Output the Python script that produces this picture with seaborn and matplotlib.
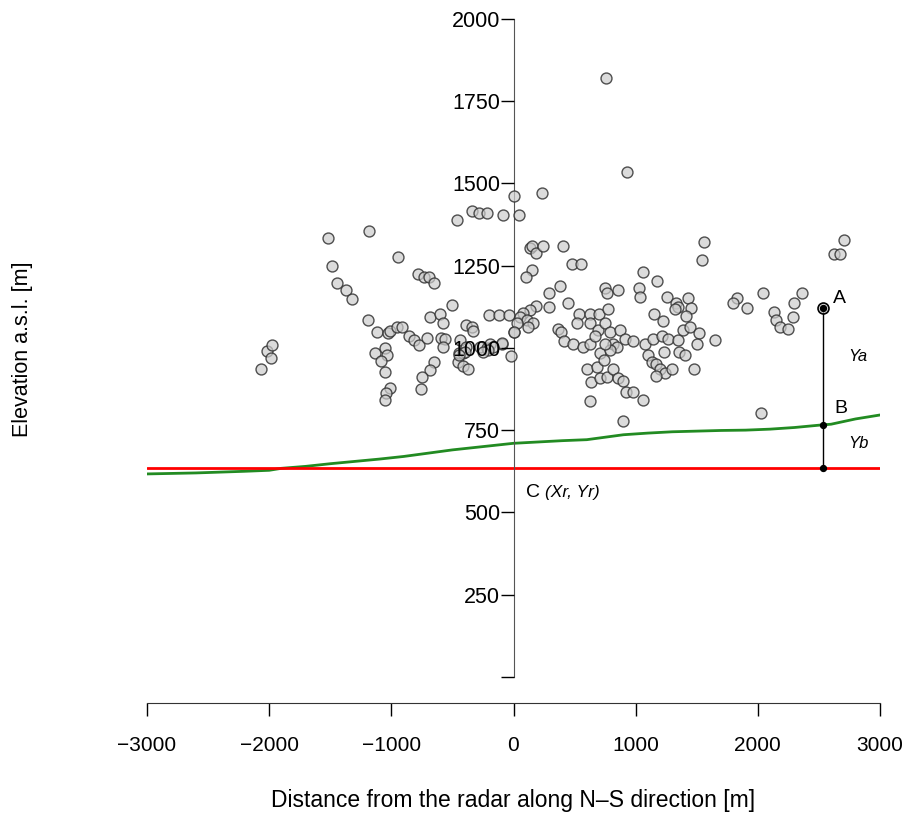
import numpy as np
import pandas as pd
import matplotlib
matplotlib.use("Agg")
import matplotlib.pyplot as plt
import seaborn as sns

# scatter of echoes (distance along N-S [m], elevation a.s.l. [m])
dist = [-2067, -2016, -1988, -1980, -1521, -1486, -1442, -1371, -1319,
        -1183, -948, -779, -735, -694, -653, -501, -200, -119, -37, -683, -599, -580,
        -1188, -1115, -1025, -1011, -956, -915, -853, -814, -771, -710, -593, -558, -580,
        -391, -342, -334, -438, -457, -416, -370,
        -274, -219, -192, -97, -20, 0,
        -1134, -1052, -1033, -1087, -1052, -1013, -1046, -1052,
        -653, -683, -751, -760,
        -460, -342, -280, -219, -83, 0,
        -92, -165, -206, -247, -446, -411, -389, -397, -444,
        926, 236, 45, 135, 154, 182, 244, 403, 479, 550, 149, 100,
        1562, 1540, 1057, 1175, 381, 291, 749, 763, 853, 1030, 1035, 1254,
        1431, 1328, 1349, 1322, 1453, 1409, 449, 291, 184,
        135, 80, 53, 108, 162, 121, 26, 4,
        536, 626, 702, 776, 517, 626, 694, 749,
        367, 386, 416, 490, 566, 626, 708,
        667, 790, 817, 845, 872, 913, 981, 790, 749,
        1076, 1144, 1213, 1267, 1349, 1390, 1445, 1521, 1500,
        1152, 1221, 1232, 1357, 1404,
        1103, 1131, 1166, 1199, 1240, 1295, 1164, 1477,
        599, 632, 681, 708, 763, 812, 858, 894, 743,
        626, 921, 981, 1057, 899,
        2045, 2359, 2298, 1827, 1794, 1909, 2132, 2149, 2181, 2244, 2285, 1649, 2026,
        755, 2705, 2626, 2672]
elev = [936, 990, 970, 1008, 1335, 1249, 1196, 1175, 1148,
        1355, 1275, 1223, 1216, 1216, 1196, 1129, 1101, 1101, 1101, 1094, 1104, 1076,
        1084, 1049, 1044, 1052, 1063, 1064, 1037, 1023, 1008, 1030, 1030, 1026, 1003,
        1069, 1064, 1051, 1023, 956, 944, 936,
        1003, 998, 1013, 1013, 976, 1049,
        983, 998, 977, 961, 927, 877, 863, 841,
        957, 934, 912, 876,
        1388, 1416, 1408, 1408, 1403, 1461,
        1015, 1003, 993, 988, 983, 985, 1003, 988, 978,
        1535, 1469, 1402, 1304, 1309, 1289, 1309, 1309, 1255, 1255, 1236, 1214,
        1321, 1268, 1229, 1202, 1188, 1168, 1183, 1168, 1175, 1183, 1155, 1155,
        1152, 1135, 1123, 1117, 1122, 1096, 1135, 1123, 1128,
        1115, 1105, 1094, 1084, 1074, 1064, 1074, 1047,
        1102, 1102, 1102, 1117, 1074, 1074, 1054, 1074,
        1056, 1049, 1021, 1011, 1003, 1011, 985,
        1037, 1049, 1013, 1003, 1054, 1028, 1021, 993, 1013,
        1013, 1028, 1037, 1028, 1023, 1054, 1064, 1044, 1011,
        1102, 1082, 988, 988, 978,
        978, 958, 952, 937, 922, 935, 914, 935,
        935, 896, 942, 907, 912, 935, 907, 900, 963,
        838, 865, 865, 843, 778,
        1168, 1168, 1135, 1150, 1135, 1122, 1109, 1084, 1064, 1056, 1094, 1023, 803,
        1820, 1328, 1284, 1284]

# terrain profile
terr_x = [-3000, -2600, -2200, -2000, -1900, -1700, -1500, -1300, -1100, -900, -700,
          -500, -300, -100, 0, 200, 400, 600, 700, 900, 1100, 1300, 1500, 1700,
          1900, 2100, 2300, 2500, 2600, 2700, 2800, 2900, 3000]
terr_y = [617, 620, 625, 628, 634, 640, 648, 655, 662, 670, 680,
          690, 698, 706, 710, 714, 718, 721, 726, 736, 741, 745, 747, 749,
          750, 753, 758, 765, 768, 776, 784, 790, 796]

radar_y = 635
ya_x, ya_y = 2533, 1122
yb_y = 767

sns.set_style("white", {"xtick.bottom": True, "ytick.left": True})
plt.rcParams['font.family'] = ['Liberation Sans', 'DejaVu Sans']
plt.rcParams.update({"text.color": "black", "axes.labelcolor": "black",
                     "xtick.color": "black", "ytick.color": "black"})

fig = plt.figure(figsize=(9.11, 8.21), dpi=100)
ax = fig.add_axes([147 / 911, 1 - 710 / 821, 733 / 911, 700 / 821])

pts = pd.DataFrame({"dist": dist, "elev": elev})
sns.scatterplot(data=pts, x="dist", y="elev", ax=ax, s=62,
                color=(0.8, 0.8, 0.8, 0.7), edgecolor=(0.2, 0.2, 0.2, 0.85),
                linewidth=1, zorder=3)

terr = pd.DataFrame({"x": terr_x, "y": terr_y})
sns.lineplot(data=terr, x="x", y="y", ax=ax, color="forestgreen", lw=2, zorder=2)
ax.plot([-3000, 3000], [radar_y, radar_y], color="red", lw=2, zorder=2)

# A-B-C construction
ax.plot([ya_x, ya_x], [radar_y, ya_y], color="black", lw=1, zorder=4)
ax.scatter([ya_x], [ya_y], s=62, color=(0.8, 0.8, 0.8, 0.7),
           edgecolor="black", lw=1.2, zorder=5)
ax.scatter([ya_x, ya_x, ya_x], [ya_y, yb_y, radar_y], s=18, color="black", zorder=6)
ax.text(2615, 1150, "A", fontsize=14, ha="left", va="center")
ax.text(2630, 817, "B", fontsize=14, ha="left", va="center")
ax.text(2738, 975, "Ya", fontsize=12, style="italic", ha="left", va="center")
ax.text(2738, 710, "Yb", fontsize=12, style="italic", ha="left", va="center")
ax.text(100, 562, "C", fontsize=14, ha="left", va="center")
ax.text(260, 562, "(Xr, Yr)", fontsize=12.5, style="italic", ha="left", va="center")

ax.set_xlim(-3000, 3000)
ax.set_ylim(-100, 2026)

for s in ["top", "right"]:
    ax.spines[s].set_visible(False)
ax.spines["left"].set_position(("data", 0))
ax.spines["left"].set_bounds(0, 2000)
ax.spines["left"].set_color("#555555")
ax.spines["bottom"].set_position(("data", -79))
ax.spines["bottom"].set_bounds(-3000, 3000)
ax.spines["bottom"].set_color("#333333")

yt = np.arange(0, 2001, 250)
ax.set_yticks(yt)
ax.set_yticklabels([""] + [str(v) for v in yt[1:]])
ax.set_xticks(np.arange(-3000, 3001, 1000))
ax.tick_params(axis="y", direction="out", length=9.5, width=1, pad=0, labelsize=15.5)
ax.tick_params(axis="x", direction="out", length=9.5, width=1, pad=14, labelsize=15)
# tick labels sit on top of the points, as in the original
ax.yaxis.set_zorder(10)

ax.set_xlabel("Distance from the radar along N\u2013S direction [m]", fontsize=16.5, labelpad=25)
ax.set_ylabel("Elevation a.s.l. [m]", fontsize=15.5)
ax.yaxis.set_label_coords(-0.155, 0.516)

fig.savefig("out.png", dpi=100)
